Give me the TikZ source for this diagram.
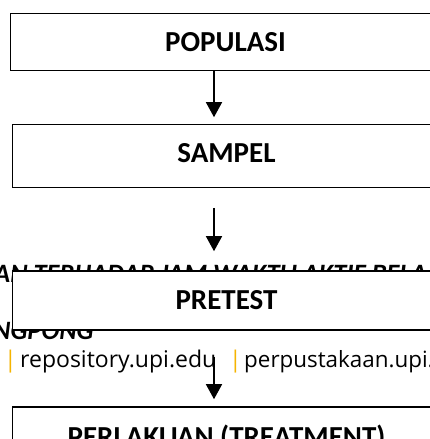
\documentclass[tikz,border=0pt]{standalone}
\usepackage{fontspec}
\setmainfont{Carlito}
\newfontfamily\footfont{Open Sans}
\usetikzlibrary{arrows.meta}
\definecolor{upigold}{RGB}{245,180,0}
\begin{document}
\begin{tikzpicture}[x=1pt,y=-1pt,
  box/.style={rectangle, draw=black, line width=1.6pt, fill=white, inner sep=0pt,
    text height=18.7pt, text depth=0pt,
    font=\fontsize{29}{34}\selectfont\bfseries},
  arr/.style={line width=1.5pt, -{Triangle[width=16pt,length=15pt]}},
  hdr/.style={inner sep=0pt, anchor=base west,
    font=\fontsize{26.5}{30}\selectfont\bfseries\itshape},
  foot/.style={inner sep=0pt, anchor=base west,
    font=\footfont\fontsize{23}{27}\selectfont}]
\fill[white] (0,0) rectangle (430,439);
\path[use as bounding box] (0,0) rectangle (430,439);
\clip (0,0) rectangle (430,439);
% header text behind the boxes
\node[hdr] (h1) at (-6,282) {AN TERHADAP JAM WAKTU AKTIF BELAJAR};
\node[hdr] (h2) at (-7,339) {NGPONG};
% footer
\node[foot, text=upigold] (b1) at (4,367) {|};
\node[foot] (f1) at (20,367) {repository.upi.edu};
\node[foot, text=upigold] (b2) at (229,367) {|};
\node[foot, font=\footfont\fontsize{22.4}{27}\selectfont] (f2) at (244,367) {perpustakaan.upi.edu};
% boxes
\node[box, minimum width=430pt, minimum height=57pt] (box1) at (225.5,42) {POPULASI};
\node[box, minimum width=428pt, minimum height=63pt, text depth=6pt] (box2) at (226.5,156) {SAMPEL};
\node[box, minimum width=428pt, minimum height=59pt] (box3) at (226.5,300.5) {PRETEST};
\node[box, minimum width=428pt, minimum height=60pt] (box4) at (226.5,437) {PERLAKUAN (TREATMENT)};
% arrows
\coordinate (ax) at (214,0);
\draw[arr, shorten >=6.5pt] (ax |- box1.south) -- (ax |- box2.north);
\draw[arr, shorten <=19.5pt, shorten >=19pt] (ax |- box2.south) -- (ax |- box3.north);
\draw[arr, shorten <=26pt, shorten >=7pt] (ax |- box3.south) -- (ax |- box4.north);
\end{tikzpicture}
\end{document}
